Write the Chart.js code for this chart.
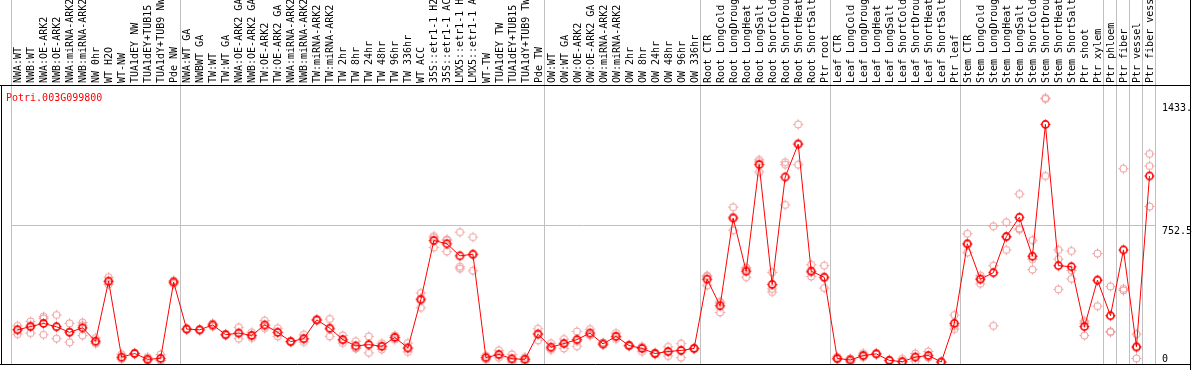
<!DOCTYPE html>
<html>
<head>
<meta charset="utf-8">
<script src="https://cdn.jsdelivr.net/npm/chart.js@4/dist/chart.umd.min.js"></script>
<style>
  html, body { margin: 0; padding: 0; background: #fff; }
  canvas { display: block; }
</style>
</head>
<body>
<canvas id="myChart" width="1194" height="370"></canvas>
<script>
// gene shown
const geneName = 'Potri.003G099800';

// samples, left to right
const categories = [
  'NWA:WT', 'NWB:WT', 'NWA:OE-ARK2', 'NWB:OE-ARK2', 'NWA:miRNA-ARK2', 'NWB:miRNA-ARK2',
  'NW 0hr', 'WT H2O', 'WT-NW', 'TUA1dEY NW', 'TUA1dEY+TUB15 NW', 'TUA1dY+TUB9 NW', 'Pde NW',
  'NWA:WT GA', 'NWBWT GA', 'TW:WT', 'TW:WT GA', 'NWA:OE-ARK2 GA', 'NWB:OE-ARK2 GA',
  'TW:OE-ARK2', 'TW:OE-ARK2 GA', 'NWA:miRNA-ARK2 GA', 'NWB:miRNA-ARK2 GA', 'TW:miRNA-ARK2',
  'TW:miRNA-ARK2 GA', 'TW 2hr', 'TW 8hr', 'TW 24hr', 'TW 48hr', 'TW 96hr', 'TW 336hr',
  'WT ACC', '35S::etr1-1 H2O', '35S::etr1-1 ACC', 'LMX5::etr1-1 H2O', 'LMX5::etr1-1 ACC',
  'WT-TW', 'TUA1dEY TW', 'TUA1dEY+TUB15 TW', 'TUA1dY+TUB9 TW', 'Pde TW',
  'OW:WT', 'OW:WT GA', 'OW:OE-ARK2', 'OW:OE-ARK2 GA', 'OW:miRNA-ARK2', 'OW:miRNA-ARK2 GA',
  'OW 2hr', 'OW 8hr', 'OW 24hr', 'OW 48hr', 'OW 96hr', 'OW 336hr',
  'Root CTR', 'Root LongCold', 'Root LongDrought', 'Root LongHeat', 'Root LongSalt',
  'Root ShortCold', 'Root ShortDrought', 'Root ShortHeat', 'Root ShortSalt', 'Ptr root',
  'Leaf CTR', 'Leaf LongCold', 'Leaf LongDrought', 'Leaf LongHeat', 'Leaf LongSalt',
  'Leaf ShortCold', 'Leaf ShortDrought', 'Leaf ShortHeat', 'Leaf ShortSalt', 'Ptr leaf',
  'Stem CTR', 'Stem LongCold', 'Stem LongDrought', 'Stem LongHeat', 'Stem LongSalt',
  'Stem ShortCold', 'Stem ShortDrought', 'Stem ShortHeat', 'Stem ShortSalt', 'Ptr shoot',
  'Ptr xylem', 'Ptr phloem', 'Ptr fiber', 'Ptr vessel', 'Ptr fiber vessel'
];

// how many samples in each block between the grey separators
const groupSizes = [13, 28, 12, 10, 10, 11, 1, 1, 1, 1];

// mean expression
const meanValues = [
  178, 196, 213, 195, 164, 189, 115, 447, 27, 47, 15, 20, 442,
  182, 178, 205, 151, 160, 147, 205, 164, 113, 129, 233, 187, 124, 89, 96, 87, 136, 78,
  345, 672, 654, 587, 596, 24, 42, 18, 15, 154,
  82, 102, 124, 160, 100, 142, 91, 75, 47, 58, 64, 75,
  458, 311, 796, 502, 1092, 429, 1023, 1205, 502, 469,
  20, 11, 36, 45, 9, 2, 27, 36, 0, 214,
  654, 458, 494, 694, 800, 585, 1314, 533, 527, 196, 453,
  256, 620, 84, 1029
];

// replicates
const rep1 = [
  200, 224, 251, 260, 214, 218, 133, 469, 42, 50, 27, 42, 451,
  185, 180, 214, 155, 192, 164, 229, 187, 116, 151, 236, 238, 147, 115, 142, 104, 147, 105,
  382, 696, 678, 718, 691, 35, 65, 42, 27, 184,
  104, 127, 169, 182, 108, 160, 96, 84, 52, 84, 102, 78,
  478, 333, 856, 523, 1118, 496, 1105, 1314, 538, 533,
  29, 20, 49, 49, 12, 18, 47, 58, 2, 260,
  709, 478, 751, 773, 929, 674, 1460, 620, 614, 227, 600,
  418, 1069, 154, 1151
];
const rep2 = [
  154, 160, 151, 129, 109, 146, 102, 429, 23, 45, 9, 9, 432,
  180, 176, 196, 148, 129, 133, 187, 142, 110, 111, 230, 142, 105, 78, 51, 69, 124, 56,
  300, 633, 611, 527, 505, 13, 24, 0, 3, 120,
  67, 75, 87, 151, 95, 127, 86, 57, 42, 33, 24, 72,
  424, 274, 729, 469, 1051, 387, 869, 1091, 473, 409,
  17, 0, 27, 42, 6, 0, 5, 25, 0, 182,
  605, 433, 533, 620, 732, 569, 1029, 569, 460, 146, 309,
  169, 405, 20, 1084
];
const rep3 = [
  180, 204, 240, 196, 169, 203, 110, 443, 16, 47, 9, 9, 443,
  181, 178, 205, 150, 159, 144, 199, 163, 113, 125, 233, 181, 120, 75, 95, 88, 137, 73,
  353, 687, 673, 516, 592, 24, 37, 12, 15, 158,
  75, 104, 116, 147, 97, 139, 91, 84, 47, 57, 66, 75,
  472, 326, 803, 514, 1107, 404, 1091, 1210, 495, 465,
  14, 13, 32, 44, 9, 0, 29, 25, 0, 200,
  648, 463, 200, 689, 739, 511, 1455, 402, 507, 215, 450,
  165, 396, 78, 860
];

// right axis labels
const yTickValues = [0, 752.5, 1433];
const yTickLabels = ['0', '752.5', '1433.'];

const FONT = 'DejaVu Sans Mono';
const GRID = '#c0c0c0';

// separator positions from the group sizes
const separators = [0];
groupSizes.forEach(n => separators.push(separators[separators.length - 1] + n));

// circle marker with small ticks
function makeMarker(color, lw) {
  const c = document.createElement('canvas');
  c.width = 13;
  c.height = 13;
  const g = c.getContext('2d');
  g.strokeStyle = color;
  g.lineWidth = lw;
  g.beginPath();
  g.arc(6.5, 6.5, 3.6, 0, Math.PI * 2);
  g.stroke();
  g.lineWidth = 1;
  g.beginPath();
  g.moveTo(6.5, 1.5); g.lineTo(6.5, 3.5);
  g.moveTo(6.5, 9.5); g.lineTo(6.5, 11.5);
  g.moveTo(1.5, 6.5); g.lineTo(3.5, 6.5);
  g.moveTo(9.5, 6.5); g.lineTo(11.5, 6.5);
  g.stroke();
  return c;
}
const meanMarker = makeMarker('#ff0000', 1.6);
const repMarker = makeMarker('#ee9a9a', 1);

function repDataset(values) {
  return {
    data: values,
    showLine: false,
    pointStyle: repMarker,
    pointRadius: 5,
    borderColor: '#ee9a9a',
    backgroundColor: 'rgba(0,0,0,0)'
  };
}

const framePlugin = {
  id: 'frame',
  afterDraw(chart) {
    const ctx = chart.ctx;
    const a = chart.chartArea;
    const y = chart.scales.y;
    ctx.save();
    ctx.strokeStyle = '#000';
    ctx.lineWidth = 1;
    ctx.beginPath();
    const l = a.left - 10 + 0.5;
    const r = a.right + 34 + 0.5;
    ctx.moveTo(0, a.top + 0.5); ctx.lineTo(r, a.top + 0.5);
    ctx.moveTo(0, a.bottom + 0.5); ctx.lineTo(r, a.bottom + 0.5);
    ctx.moveTo(l, a.top); ctx.lineTo(l, a.bottom + 1);
    ctx.moveTo(r, 0); ctx.lineTo(r, chart.height);
    ctx.stroke();

    ctx.font = '10px "' + FONT + '"';
    ctx.textAlign = 'left';
    ctx.textBaseline = 'alphabetic';
    ctx.fillStyle = '#000';
    yTickValues.forEach((v, i) => {
      const py = y.getPixelForValue(v);
      const base = v === 0 ? py : py + 8;
      ctx.fillText(yTickLabels[i], a.right + 6, base);
    });

    ctx.fillStyle = '#ff0000';
    ctx.fillText(geneName, a.left - 5, a.top + 16);
    ctx.restore();
  }
};

const ctx = document.getElementById('myChart');
const myChart = new Chart(ctx, {
  type: 'line',
  data: {
    labels: categories,
    datasets: [
      {
        data: meanValues,
        borderColor: '#ff0000',
        borderWidth: 1,
        backgroundColor: 'rgba(0,0,0,0)',
        pointStyle: meanMarker,
        pointRadius: 5,
        tension: 0
      },
      repDataset(rep1),
      repDataset(rep2),
      repDataset(rep3)
    ]
  },
  options: {
    responsive: false,
    animation: false,
    devicePixelRatio: 1,
    layout: { padding: { left: 11, right: 0, top: 0, bottom: 2 } },
    plugins: {
      legend: { display: false },
      tooltip: { enabled: false },
      title: { display: false }
    },
    scales: {
      x: {
        position: 'top',
        offset: true,
        border: { display: false },
        grid: {
          offset: true,
          drawTicks: true,
          tickLength: 85,
          color: c => (c.type === 'scale' || separators.includes(c.index)) ? GRID : 'rgba(0,0,0,0)'
        },
        ticks: {
          autoSkip: false,
          minRotation: 90,
          maxRotation: 90,
          padding: -83,
          labelOffset: 13,
          color: '#000',
          font: { family: FONT, size: 10 }
        },
        afterFit: scale => { scale.height = 85; }
      },
      y: {
        position: 'right',
        min: -11,
        max: 1532,
        border: { display: false },
        grid: {
          drawTicks: false,
          color: c => (c.tick && c.tick.value === 752.5) ? GRID : 'rgba(0,0,0,0)'
        },
        ticks: { display: false },
        afterBuildTicks: scale => {
          scale.ticks = yTickValues.map(v => ({ value: v }));
        },
        afterFit: scale => { scale.width = 38; }
      }
    }
  },
  plugins: [framePlugin]
});
</script>
</body>
</html>
